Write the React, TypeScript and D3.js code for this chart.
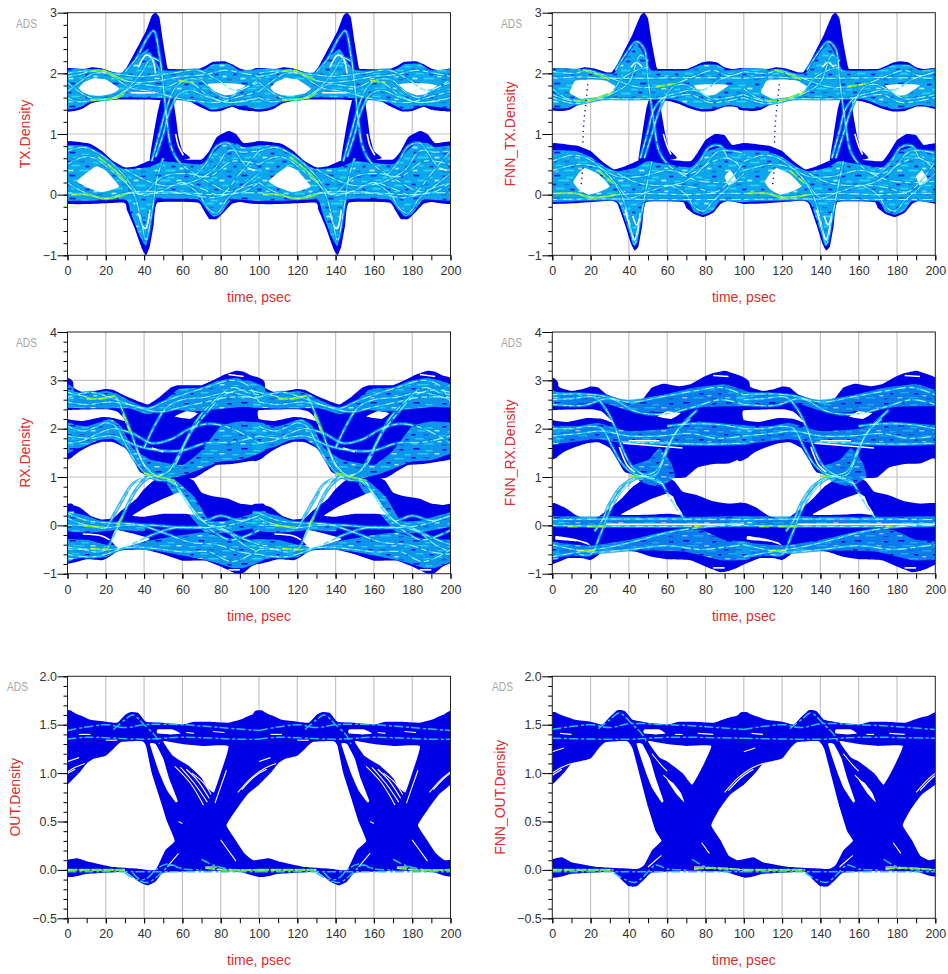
import { useEffect, useRef } from 'react'
import * as d3 from 'd3'

type Pt = [number, number]

const timeTicks = [0, 20, 40, 60, 80, 100, 120, 140, 160, 180, 200]
const periods = [-100, 0, 100]

// ---- TX ----
const txUpperMass: Pt[] = [[-3,2.07],[8,2.07],[13,2.1],[18,2.08],[24,2.02],[28,2],[31,2.1],[36,2.4],[41,2.7],[44,2.95],[46,3],[48,2.92],[50,2.5],[52,2.12],[53,2.07],[68,2.07],[72,2.12],[76,2.19],[82,2.2],[86,2.15],[90,2.08],[94,2.05],[103,2.07],[103,1.4],[95,1.38],[90,1.4],[86,1.45],[80,1.38],[75,1.37],[71,1.42],[66,1.5],[62,1.56],[55,1.56],[30,1.57],[20,1.56],[12,1.5],[8,1.42],[4,1.38],[-3,1.4]]
const txLowerMass: Pt[] = [[-3,0.85],[10,0.85],[13,0.82],[18,0.72],[24,0.55],[30,0.45],[36,0.47],[42,0.55],[50,0.62],[60,0.58],[70,0.58],[74,0.72],[78,0.95],[84,1.05],[88,1],[92,0.85],[103,0.85],[103,-0.13],[90,-0.12],[86,-0.15],[82,-0.28],[78,-0.4],[74,-0.4],[71,-0.25],[68,-0.13],[47,-0.13],[45,-0.5],[43,-0.85],[41,-1],[39,-0.9],[35,-0.55],[31,-0.25],[29,-0.13],[-3,-0.13]]
const txEdgeMass: Pt[] = [[43,0.55],[45,1],[47,1.35],[49,1.6],[52,1.75],[55,1.6],[56.5,1.3],[58,0.95],[60,0.72],[64,0.6],[50,0.5]]
const txUpperCore: Pt[] = [[-3,2.05],[12,2.07],[25,2],[30,2.03],[36,2.25],[42,2.4],[46,2.2],[50,2.05],[70,2.05],[76,2.15],[84,2.16],[90,2.05],[103,2.05],[103,1.43],[92,1.45],[86,1.47],[80,1.42],[75,1.4],[71,1.47],[66,1.55],[60,1.58],[30,1.6],[20,1.6],[12,1.54],[8,1.46],[4,1.42],[-3,1.43]]
const txLowerCore: Pt[] = [[-3,0.78],[10,0.8],[18,0.66],[24,0.5],[30,0.42],[42,0.45],[50,0.55],[60,0.52],[70,0.5],[76,0.68],[82,0.85],[88,0.85],[92,0.78],[103,0.78],[103,-0.08],[86,-0.08],[80,-0.32],[76,-0.36],[72,-0.22],[68,-0.08],[46,-0.08],[44,-0.4],[41,-0.85],[38,-0.7],[33,-0.3],[30,-0.08],[-3,-0.08]]
const txEyeA: Pt[] = [[6,1.76],[9,1.86],[14,1.92],[20,1.9],[25,1.8],[27,1.74],[24,1.67],[18,1.63],[12,1.64],[8,1.69]]
const txEyeB: Pt[] = [[73,1.82],[80,1.84],[88,1.83],[93,1.8],[87,1.66],[82,1.64],[77,1.7]]
const txEyeC: Pt[] = [[5,0.22],[10,0.36],[15,0.47],[20,0.4],[27,0.14],[22,0.07],[17,0.04],[10,0.12]]
const txSlitA: Pt[] = [[37,-0.3],[40,-0.55],[41,-0.55],[43,-0.25]]
const txSlitB: Pt[] = [[37,2.1],[41,2.3],[44,2.25],[46,2.0]]
const txSlitC: Pt[] = [[56.5,1.0],[58,0.8],[60.5,0.65]]
const txSlitD: Pt[] = [[33,1.68],[46,1.68]]
const txSlitE: Pt[] = [[94,0.43],[98,0.4]]
const txRibbonA: Pt[] = [[0,1.95],[6,1.98],[13,2.04],[20,2.02],[28,1.9],[36,1.85],[48,1.88],[60,1.95],[72,1.98],[82,2.05],[92,2],[100,1.95]]
const txRibbonB: Pt[] = [[0,1.6],[6,1.53],[14,1.56],[24,1.6],[30,1.7],[36,1.82],[44,1.8],[52,1.78],[60,1.88],[66,1.82],[74,1.62],[84,1.52],[92,1.55],[100,1.6]]
const txRibbonC: Pt[] = [[0,1.85],[6,1.7],[12,1.6],[22,1.58],[30,1.72],[38,1.98],[44,2.25],[48,2.2]]
const txRibbonD: Pt[] = [[0,1.7],[6,1.85],[14,2],[22,1.98],[28,1.85],[34,1.75],[44,1.7],[56,1.6],[66,1.55],[78,1.52],[90,1.62],[100,1.7]]
const txRibbonE: Pt[] = [[0,2],[10,2.04],[28,1.98],[38,1.95],[54,2],[68,2.05],[78,1.9],[88,1.72],[100,1.9]]
const txRibbonF: Pt[] = [[44,0.55],[48,1],[52,1.45],[56,1.75],[62,1.9],[70,1.88],[76,1.7],[84,1.6],[92,1.75],[100,1.85]]
const txRibbonG: Pt[] = [[46,0.62],[50,1],[53,1.35],[58,1.65],[64,1.72],[74,1.6],[84,1.52],[94,1.55],[100,1.6]]
const txRibbonH: Pt[] = [[30,2.02],[36,2.25],[42,2.6],[45,2.7],[48,2.3],[50,1.8],[52,1.2],[54,0.8],[58,0.55],[66,0.35],[74,0.2],[84,0.05],[92,0.12],[100,0.2]]
const txRibbonI: Pt[] = [[0,0.72],[8,0.78],[14,0.72],[22,0.55],[30,0.3],[38,0],[48,0.05],[60,0.2],[70,0.1],[80,0],[90,0.35],[100,0.72]]
const txRibbonJ: Pt[] = [[0,0.2],[6,0.08],[14,-0.02],[20,-0.07],[28,0],[36,0.05],[50,0.05],[66,0.02],[80,0],[92,0.05],[100,0.2]]
const txRibbonK: Pt[] = [[0,0.5],[8,0.62],[14,0.6],[22,0.42],[30,0.2],[38,0],[50,0.3],[62,0.35],[74,0.3],[86,0.55],[100,0.5]]
const txRibbonL: Pt[] = [[0,0.03],[10,0],[20,-0.06],[30,0.02],[42,0.02],[60,0.02],[76,-0.05],[86,0.02],[100,0.03]]
const txRibbonM: Pt[] = [[30,0.42],[40,0.25],[50,0.15],[64,0.2],[76,0.4],[84,0.72],[92,0.7],[100,0.72]]
const txRibbonN: Pt[] = [[26,0.35],[34,0.05],[38,-0.35],[41,-0.75],[44,-0.3],[47,0.3],[50,0.6]]
const txRibbonO: Pt[] = [[60,0.2],[68,0.03],[74,-0.25],[78,-0.3],[84,-0.05],[92,0.15],[100,0.35]]
const txRibbonP: Pt[] = [[66,0.3],[72,0.5],[78,0.8],[84,0.85],[88,0.7],[94,0.45],[100,0.4]]
const txGreenA: Pt[] = [[12,2.03],[18,2.05],[24,1.97],[30,1.88]]
const txGreenB: Pt[] = [[12,1.56],[20,1.57],[26,1.6],[30,1.68]]
const txGreenC: Pt[] = [[16,0.62],[24,0.42],[31,0.2]]
const txGreenD: Pt[] = [[2,0],[10,0],[18,-0.06],[26,-0.04],[31,0.02]]
const txGreenE: Pt[] = [[58,1.88],[66,1.85]]

// ---- FNN_TX ----
const ftUpperMass: Pt[] = [[-3,2.07],[12,2.07],[17,2.1],[22,2.08],[28,2.02],[31,2.02],[34,2.15],[38,2.4],[42,2.65],[46,2.95],[48,3],[50,2.9],[52,2.5],[54.5,2.1],[56,2.07],[70,2.07],[74,2.12],[78,2.18],[82,2.2],[86,2.18],[90,2.1],[94,2.07],[103,2.07],[103,1.42],[95,1.45],[90,1.45],[84,1.38],[78,1.37],[72,1.42],[66,1.5],[60,1.55],[40,1.57],[28,1.57],[17,1.52],[13,1.47],[9,1.4],[5,1.38],[-3,1.42]]
const ftLowerMass: Pt[] = [[-3,0.82],[10,0.82],[14,0.8],[20,0.72],[26,0.55],[32,0.42],[38,0.47],[44,0.55],[50,0.62],[60,0.58],[72,0.55],[76,0.7],[80,0.9],[85,1],[90,0.98],[94,0.82],[103,0.82],[103,-0.13],[92,-0.1],[88,-0.15],[84,-0.3],[79,-0.37],[74,-0.32],[70,-0.22],[68,-0.12],[49,-0.12],[47,-0.5],[45,-0.85],[43,-0.92],[41,-0.8],[38,-0.5],[34,-0.15],[30,-0.1],[-3,-0.13]]
const ftEdgeMass: Pt[] = [[45,0.55],[47,1],[49,1.4],[51,1.6],[56,1.6],[57,1.35],[59,1],[61,0.75],[65,0.6],[50,0.5]]
const ftUpperCore: Pt[] = [[-3,2.06],[14,2.07],[26,2],[32,2],[38,2.25],[44,2.5],[48,2.3],[52,2.05],[70,2.05],[78,2.14],[86,2.14],[92,2.05],[103,2.06],[103,1.46],[92,1.48],[84,1.42],[78,1.41],[72,1.46],[66,1.54],[60,1.58],[28,1.6],[17,1.55],[9,1.44],[5,1.42],[-3,1.46]]
const ftLowerCore: Pt[] = [[-3,0.7],[12,0.72],[20,0.62],[28,0.45],[34,0.38],[44,0.45],[50,0.55],[72,0.45],[80,0.7],[88,0.78],[94,0.72],[103,0.7],[103,-0.1],[88,-0.1],[84,-0.26],[79,-0.33],[74,-0.28],[70,-0.1],[48,-0.1],[46,-0.45],[43,-0.85],[40,-0.6],[35,-0.15],[30,-0.07],[-3,-0.1]]
const ftEyeA: Pt[] = [[9,1.68],[12,1.88],[20,1.9],[28,1.88],[33,1.78],[30,1.66],[22,1.6],[15,1.58]]
const ftEyeB: Pt[] = [[74,1.8],[80,1.82],[88,1.82],[92,1.8],[85,1.65],[80,1.63],[76,1.72]]
const ftEyeC: Pt[] = [[11,0.21],[14,0.36],[17,0.44],[24,0.34],[30,0.14],[25,0.05],[19,0],[14,0.08]]
const ftEyeD: Pt[] = [[90,0.3],[93,0.4],[96,0.25],[92,0.15]]
const ftSlitA: Pt[] = [[38,-0.25],[42,-0.68],[43,-0.75],[44.5,-0.6],[46,-0.3]]
const ftSlitB: Pt[] = [[42,-0.35],[44,-0.5],[45.5,-0.4]]
const ftSlitC: Pt[] = [[41,2.1],[44,2.18],[47,2.1]]
const ftSlitD: Pt[] = [[58,1.0],[60,0.8],[62,0.66]]
const ftRibbonA: Pt[] = [[0,1.92],[14,1.94],[30,1.92],[50,1.92],[70,1.93],[100,1.92]]
const ftRibbonB: Pt[] = [[0,2.03],[12,2],[18,2.05],[26,1.98],[34,1.88],[44,1.78],[56,1.78],[66,1.85],[74,1.95],[84,2.05],[92,1.96],[100,2.03]]
const ftRibbonC: Pt[] = [[0,1.65],[6,1.58],[14,1.53],[24,1.6],[32,1.68],[40,1.85],[46,2.3],[50,2.2]]
const ftRibbonD: Pt[] = [[0,1.75],[8,1.58],[20,1.56],[30,1.65],[36,1.9],[44,2.05],[50,2.1]]
const ftRibbonE: Pt[] = [[0,1.6],[12,1.5],[26,1.58],[44,1.58],[60,1.6],[72,1.65],[82,1.52],[92,1.55],[100,1.6]]
const ftRibbonF: Pt[] = [[46,0.6],[50,1.05],[53,1.4],[58,1.6],[66,1.68],[74,1.72],[84,1.58],[92,1.6],[100,1.65]]
const ftRibbonG: Pt[] = [[48,0.6],[52,1],[56,1.4],[62,1.75],[68,1.82],[78,1.72],[88,1.9],[100,2.02]]
const ftRibbonH: Pt[] = [[33,2.05],[38,2.3],[44,2.52],[48,2.4],[50,1.9],[53,1.2],[56,0.7],[62,0.45],[74,0.25],[86,0.2],[100,0.22]]
const ftRibbonI: Pt[] = [[0,0.55],[10,0.65],[18,0.6],[26,0.42],[34,0.15],[40,-0.05],[50,0.05],[62,0.15],[74,0.12],[86,0.05],[100,0.55]]
const ftRibbonJ: Pt[] = [[0,0.02],[12,0.02],[22,-0.04],[34,0],[50,0.02],[70,0],[84,0.02],[100,0.02]]
const ftRibbonK: Pt[] = [[0,-0.08],[30,-0.07],[50,-0.08],[70,-0.08],[100,-0.08]]
const ftRibbonL: Pt[] = [[0,0.4],[14,0.5],[24,0.45],[34,0.3],[46,0.3],[60,0.4],[72,0.35],[84,0.55],[92,0.6],[100,0.4]]
const ftRibbonM: Pt[] = [[34,0.35],[44,0.2],[56,0.15],[68,0.2],[78,0.42],[86,0.7],[94,0.72],[100,0.68]]
const ftRibbonN: Pt[] = [[30,0.3],[36,0],[40,-0.4],[43,-0.82],[46,-0.4],[49,0.1],[52,0.55]]
const ftRibbonO: Pt[] = [[62,0.15],[70,0],[74,-0.2],[79,-0.27],[84,-0.1],[92,0.12],[100,0.35]]
const ftRibbonP: Pt[] = [[68,0.3],[76,0.5],[82,0.78],[88,0.8],[92,0.6],[100,0.5]]
const ftGreenA: Pt[] = [[16,2.06],[24,1.98],[30,1.9]]
const ftGreenB: Pt[] = [[12,1.54],[22,1.58],[32,1.7]]
const ftGreenC: Pt[] = [[2,0.02],[12,0.02],[20,-0.05],[26,-0.04],[34,0]]
const ftGreenD: Pt[] = [[54,1.78],[64,1.83]]
const ftGreenE: Pt[] = [[24,0.4],[32,0.18]]
const ftDotsA: Pt[] = [[18.5,1.82],[17.5,1.5],[16.5,1.2],[16,0.85]]
const ftDotsB: Pt[] = [[16,0.45],[15,0.15]]

// ---- RX ----
const rxUpperMass: Pt[] = [[-3,3.05],[3,2.85],[8,2.75],[14,2.78],[20,2.82],[24,2.8],[30,2.68],[38,2.55],[42,2.5],[48,2.65],[54,2.85],[58,2.9],[70,2.9],[76,3],[82,3.12],[88,3.2],[92,3.18],[96,3.1],[103,2.95],[103,1.45],[94,1.32],[86,1.27],[78,1.25],[72,1.12],[66,0.98],[50,0.95],[38,1.1],[34,1.4],[30,1.6],[24,1.72],[18,1.73],[12,1.65],[6,1.52],[-3,1.35]]
const rxLowerMass: Pt[] = [[-3,0.42],[6,0.38],[12,0.2],[18,0.12],[24,0.15],[28,0.3],[32,0.42],[36,0.55],[40,0.75],[46,0.95],[60,1.02],[66,0.92],[70,0.68],[76,0.6],[84,0.55],[90,0.45],[96,0.42],[103,0.42],[103,-0.68],[96,-0.85],[92,-0.98],[88,-1],[80,-0.85],[72,-0.73],[60,-0.73],[50,-0.6],[40,-0.5],[27,-0.52],[22,-0.65],[18,-0.72],[10,-0.7],[-3,-0.78]]
const rxLaneCoreA: Pt[] = [[-3,2.85],[8,2.72],[20,2.78],[26,2.72],[34,2.55],[42,2.42],[50,2.55],[58,2.82],[70,2.85],[78,2.98],[88,3.05],[96,2.98],[103,2.85],[103,2.45],[90,2.45],[78,2.4],[66,2.35],[54,2.4],[42,2.3],[32,2.42],[20,2.42],[8,2.42],[-3,2.45]]
const rxLaneCoreB: Pt[] = [[-3,2.1],[10,2.05],[22,2.2],[28,2.05],[34,1.6],[44,1.35],[60,1.25],[70,1.55],[80,2.05],[90,2.15],[103,2.1],[103,1.55],[90,1.35],[80,1.32],[72,1.2],[62,1.05],[50,0.95],[40,1.1],[32,1.55],[24,1.78],[16,1.76],[8,1.62],[-3,1.55]]
const rxLaneCoreC: Pt[] = [[-3,0.3],[10,0.2],[20,0.05],[30,0],[40,0.02],[40,-0.12],[24,-0.1],[12,-0.15],[-3,-0.1]]
const rxLaneCoreD: Pt[] = [[-3,-0.3],[10,-0.3],[20,-0.4],[30,-0.4],[45,-0.3],[60,-0.2],[72,-0.15],[85,-0.3],[103,-0.3],[103,-0.7],[92,-0.88],[86,-0.88],[78,-0.78],[70,-0.7],[50,-0.55],[30,-0.48],[20,-0.66],[10,-0.67],[-3,-0.7]]
const rxLaneCoreE: Pt[] = [[56,0.95],[66,0.6],[74,0.1],[84,0.1],[103,0.3],[103,0],[84,-0.15],[72,-0.15],[62,0.3],[52,0.85]]
const rxHoleA: Pt[] = [[0,2.38],[20,2.4],[26,2.35],[31,2.15],[24,2.22],[18,2.24],[8,2.16],[0,2.2]]
const rxHoleB: Pt[] = [[25,-0.1],[32,-0.15],[43,-0.28],[36,-0.38],[27,-0.48],[23,-0.32]]
const rxHoleC: Pt[] = [[56,2.25],[62,2.36],[68,2.32],[64,2.2]]
const rxHoleD: Pt[] = [[34,0.2],[42,0.4],[50,0.55],[58,0.68],[61,0.62],[64,0.42],[68,0.22],[60,0.24],[50,0.24],[40,0.18]]
const rxSlitA: Pt[] = [[36,1.6],[40,1.25],[43,1.12]]
const rxSlitB: Pt[] = [[8,-0.18],[18,-0.22],[22,-0.3]]
const rxSlitC: Pt[] = [[32,0.68],[36,0.88],[40,1]]
const rxSlitD: Pt[] = [[44,1.6],[50,1.52]]
const rxSlitE: Pt[] = [[84,3.12],[92,3.08]]
const rxSlitF: Pt[] = [[84,-0.92],[90,-0.92]]
const rxRibbonA: Pt[] = [[0,2.75],[8,2.68],[14,2.62],[20,2.65],[25,2.66],[29,2.35],[33,1.95],[37,1.5],[42,1.15],[48,1],[54,0.95],[60,0.65],[66,0.3],[72,0.05],[80,-0.05],[90,-0.25],[100,-0.4]]
const rxRibbonB: Pt[] = [[0,2.05],[8,1.95],[14,2.02],[20,2.12],[25,2.05],[30,1.7],[35,1.35],[40,1.1],[46,0.95],[54,0.9],[60,0.62],[66,0.28],[74,0],[84,-0.15],[92,-0.4],[100,-0.55]]
const rxRibbonC: Pt[] = [[0,-0.5],[8,-0.5],[14,-0.55],[20,-0.5],[25,-0.15],[30,0.3],[36,0.75],[42,0.98],[50,1.05],[56,1.25],[62,1.75],[68,2.2],[76,2.55],[86,2.85],[94,2.75],[100,2.7]]
const rxRibbonD: Pt[] = [[0,0.15],[6,0.05],[14,-0.03],[20,-0.05],[24,0.2],[29,0.55],[34,0.85],[42,1],[52,1.1],[58,1.45],[64,1.9],[72,2.3],[82,2.7],[92,2.8],[100,2.75]]
const rxRibbonE: Pt[] = [[0,2.55],[10,2.5],[22,2.55],[32,2.5],[42,2.42],[50,2.55],[60,2.7],[72,2.85],[86,3],[94,2.9],[100,2.55]]
const rxRibbonF: Pt[] = [[0,2.65],[12,2.75],[24,2.62],[36,2.45],[48,2.35],[60,2.45],[72,2.55],[84,2.65],[100,2.65]]
const rxRibbonG: Pt[] = [[0,1.7],[8,1.75],[16,1.9],[24,2],[34,1.9],[44,1.7],[54,1.78],[64,2],[74,2.1],[86,2],[100,1.7]]
const rxRibbonH: Pt[] = [[0,1.85],[12,1.8],[24,1.85],[36,1.65],[48,1.55],[60,1.55],[72,1.7],[86,1.72],[100,1.85]]
const rxRibbonI: Pt[] = [[40,1.6],[46,2.1],[52,2.45],[60,2.6],[72,2.65],[84,2.75],[100,2.6]]
const rxRibbonJ: Pt[] = [[0,0],[10,0],[20,-0.05],[30,0],[45,0],[60,-0.05],[72,-0.05],[85,-0.3],[100,-0.1]]
const rxRibbonK: Pt[] = [[0,-0.45],[12,-0.5],[22,-0.5],[36,-0.45],[50,-0.5],[60,-0.55],[74,-0.55],[86,-0.75],[100,-0.5]]
const rxRibbonL: Pt[] = [[0,0.25],[10,0.1],[22,0.05],[36,0.02],[50,-0.15],[64,-0.35],[78,-0.4],[90,-0.55],[100,-0.6]]
const rxRibbonM: Pt[] = [[0,-0.6],[14,-0.65],[30,-0.45],[44,-0.2],[56,-0.05],[70,-0.05],[84,0],[100,0.2]]
const rxRibbonN: Pt[] = [[56,0.9],[62,0.5],[70,0.1],[80,0.2],[90,0.1],[100,0.2]]
const rxGreenA: Pt[] = [[10,2.62],[18,2.62],[25,2.68]]
const rxGreenB: Pt[] = [[29,2.3],[33,1.9]]
const rxGreenC: Pt[] = [[40,1.08],[48,1],[56,0.92]]
const rxGreenD: Pt[] = [[8,0],[20,-0.05]]
const rxGreenE: Pt[] = [[12,-0.48],[22,-0.5]]
const rxGreenF: Pt[] = [[26,0],[29,0.2]]

// ---- FNN_RX ----
const frUpperMass: Pt[] = [[-3,3.05],[4,2.85],[10,2.78],[16,2.82],[20,2.87],[24,2.85],[28,2.72],[36,2.6],[42,2.5],[48,2.65],[52,2.85],[58,2.93],[66,2.88],[72,2.92],[78,3.05],[84,3.15],[90,3.2],[94,3.15],[103,2.95],[103,1.45],[98,1.38],[92,1.28],[84,1.27],[76,1.2],[70,1],[66,0.98],[50,1],[38,1.1],[34,1.35],[30,1.6],[24,1.72],[18,1.7],[12,1.62],[6,1.52],[-3,1.35]]
const frLowerMass: Pt[] = [[-3,0.45],[6,0.38],[12,0.22],[18,0.12],[24,0.18],[30,0.35],[36,0.55],[42,0.8],[50,1],[60,1],[64,0.9],[68,0.7],[76,0.62],[84,0.5],[92,0.45],[103,0.42],[103,-0.7],[94,-0.92],[88,-0.97],[80,-0.85],[72,-0.72],[60,-0.7],[52,-0.65],[44,-0.55],[32,-0.5],[28,-0.45],[24,-0.62],[20,-0.72],[16,-0.68],[8,-0.68],[-3,-0.8]]
const frLaneCoreA: Pt[] = [[-3,2.75],[20,2.72],[40,2.6],[58,2.7],[74,2.85],[90,2.92],[103,2.75],[103,2.48],[80,2.45],[60,2.35],[42,2.35],[25,2.55],[10,2.5],[-3,2.48]]
const frLaneCoreB: Pt[] = [[-3,2.05],[14,2.05],[24,2.12],[40,1.95],[60,2],[76,2.15],[90,2.1],[103,2.05],[103,1.68],[70,1.65],[40,1.68],[24,1.78],[10,1.72],[-3,1.68]]
const frLaneCoreC: Pt[] = [[-3,0.18],[50,0.18],[80,0.18],[103,0.18],[103,-0.03],[-3,-0.03]]
const frLaneCoreD: Pt[] = [[-3,-0.35],[20,-0.42],[40,-0.3],[60,-0.12],[78,-0.1],[90,-0.3],[103,-0.35],[103,-0.7],[88,-0.72],[70,-0.55],[50,-0.52],[30,-0.55],[20,-0.62],[-3,-0.65]]
const frLaneCoreE: Pt[] = [[40,1.2],[50,1.35],[56,1.6],[62,1.3],[64,1],[56,0.8],[46,0.9]]
const frHoleA: Pt[] = [[0,2.38],[20,2.4],[26,2.35],[32,2.12],[26,2.2],[18,2.22],[8,2.14],[0,2.18]]
const frHoleB: Pt[] = [[2,-0.22],[12,-0.28],[18,-0.35],[20,-0.42],[14,-0.34],[2,-0.3]]
const frHoleC: Pt[] = [[55,2.25],[60,2.36],[67,2.32],[62,2.2]]
const frHoleD: Pt[] = [[36,0.22],[44,0.4],[52,0.55],[60,0.66],[63,0.6],[65,0.42],[68,0.22],[60,0.24],[50,0.22]]
const frSlitA: Pt[] = [[35,1.62],[39,1.25],[43,1.1]]
const frSlitB: Pt[] = [[30,0.32],[34,0.6],[40,0.88]]
const frSlitC: Pt[] = [[37,1.7],[68,1.6]]
const frSlitD: Pt[] = [[40,1.75],[56,1.75]]
const frSlitE: Pt[] = [[84,3.1],[92,3.08]]
const frSlitF: Pt[] = [[84,-0.88],[90,-0.88]]
const frSlitG: Pt[] = [[28,0.02],[100,0.02]]
const frRibbonA: Pt[] = [[0,2.6],[10,2.62],[22,2.65],[28,2.4],[33,2],[37,1.55],[42,1.2],[50,1],[56,0.92],[61,0.6],[66,0.28],[70,0.1]]
const frRibbonB: Pt[] = [[0,2],[10,2],[20,2.05],[26,2],[31,1.65],[36,1.3],[42,1.08],[50,0.98],[58,0.85]]
const frRibbonC: Pt[] = [[14,-0.6],[20,-0.6],[25,-0.2],[30,0.3],[36,0.72],[44,0.98],[54,1.05],[58,1.35],[64,1.9],[72,2.2]]
const frRibbonD: Pt[] = [[22,-0.12],[26,0.1],[30,0.45],[36,0.8],[44,1],[54,1.12],[60,1.6],[66,2],[76,2.4]]
const frRibbonE: Pt[] = [[0,2.7],[14,2.72],[26,2.68],[40,2.55],[56,2.65],[74,2.78],[88,2.85],[100,2.7]]
const frRibbonF: Pt[] = [[0,2.5],[16,2.48],[30,2.62],[44,2.35],[58,2.3],[74,2.45],[88,2.6],[100,2.5]]
const frRibbonG: Pt[] = [[0,1.85],[14,1.9],[26,1.95],[40,1.85],[56,1.85],[72,1.9],[86,1.8],[100,1.85]]
const frRibbonH: Pt[] = [[38,1.72],[60,1.7],[80,1.68],[100,1.7]]
const frRibbonI: Pt[] = [[0,0.12],[30,0.13],[60,0.13],[100,0.12]]
const frRibbonJ: Pt[] = [[0,0],[40,-0.02],[70,-0.02],[100,0]]
const frRibbonK: Pt[] = [[0,-0.65],[14,-0.55],[30,-0.45],[46,-0.3],[60,-0.15],[76,-0.05],[100,0.05]]
const frRibbonL: Pt[] = [[0,-0.4],[20,-0.55],[40,-0.5],[60,-0.42],[78,-0.5],[90,-0.45],[100,-0.4]]
const frRibbonM: Pt[] = [[60,2.05],[72,2.1],[88,2.08],[100,2]]
const frGreenA: Pt[] = [[8,-0.02],[14,-0.02]]
const frGreenB: Pt[] = [[18,-0.02],[28,-0.02]]
const frGreenC: Pt[] = [[14,-0.52],[22,-0.52]]
const frGreenD: Pt[] = [[74,-0.02],[78,-0.02]]
const frGreenE: Pt[] = [[40,1.03],[46,1]]

// ---- OUT ----
const outMass: Pt[] = [[-3,1.6],[6,1.6],[12,1.55],[20,1.53],[26,1.52],[30,1.6],[33,1.63],[37,1.62],[41,1.53],[50,1.52],[60,1.5],[66,1.53],[74,1.53],[84,1.52],[90,1.55],[96,1.6],[103,1.6],[103,-0.02],[90,-0.02],[70,-0.01],[60,-0.02],[50,-0.03],[46,-0.12],[42,-0.16],[38,-0.13],[34,-0.07],[30,-0.02],[20,-0.03],[10,-0.04],[-3,-0.02]]
const outEyeA: Pt[] = [[83,0.46],[88,0.62],[94,0.78],[100,0.88],[106,1],[110,1.1],[114,1.15],[120,1.18],[124,1.25],[128,1.32],[139,1.33],[141,1.28],[144,1],[148,0.75],[152,0.5],[156,0.3],[151,0.2],[146,0],[138,0.01],[124,0.03],[110,0.09],[105,0.12],[97,0.1],[92,0.18],[88,0.3]]
const outEyeB: Pt[] = [[50,1.33],[60,1.3],[70,1.28],[84,1.28],[80,1],[76.5,0.8],[73,0.85],[70,0.95],[63,1.08],[55,1.18]]
const outSlitA: Pt[] = [[43,1.3],[48,1],[52,0.82],[56.5,0.7],[57.5,0.72],[53,0.95],[50,1.15],[46,1.3]]
const outSlitB: Pt[] = [[47,1.45],[55,1.45],[59,1.41],[54,1.4],[47,1.41]]
const outHatchA: Pt[] = [[56,1.07],[64,0.9],[71,0.67]]
const outHatchB: Pt[] = [[59,1.06],[66,0.9],[73,0.7]]
const outHatchC: Pt[] = [[62,1.04],[68,0.92],[74,0.74]]
const outHatchD: Pt[] = [[65,1],[71,0.9],[75,0.78]]
const outHatchE: Pt[] = [[83,1.03],[80,0.86],[77,0.69]]
const outHatchF: Pt[] = [[89,0.8],[96,0.95],[103,1.05],[109,1.1]]
const outHatchG: Pt[] = [[91,0.83],[98,0.97],[104,1.04]]
const outHatchH: Pt[] = [[80,0.31],[84,0.2],[88,0.09]]
const outHatchI: Pt[] = [[52,0.03],[55,0.1],[58,0.17]]
const outHatchJ: Pt[] = [[72,0.03],[78,0.03]]
const outHatchK: Pt[] = [[100,1.12],[106,1.16]]
const outHatchL: Pt[] = [[62,1.42],[66,1.41]]
const outHatchM: Pt[] = [[76,1.43],[82,1.42]]
const outHatchN: Pt[] = [[6,1.4],[12,1.4]]
const outHatchO: Pt[] = [[20,1.34],[26,1.34]]
const outHatchP: Pt[] = [[58,0.5],[60,0.48]]
const outCyanA: Pt[] = [[24,1.45],[30,1.55],[34,1.6],[40,1.5],[46,1.38],[48,1.3]]
const outCyanB: Pt[] = [[0,1.44],[20,1.5],[30,1.47],[40,1.5],[60,1.5],[80,1.47],[100,1.44]]
const outCyanC: Pt[] = [[0,1.35],[10,1.37],[40,1.35],[60,1.37],[90,1.35],[100,1.35]]
const outCyanD: Pt[] = [[30,-0.03],[36,-0.1],[42,-0.13],[48,-0.05],[54,0.05],[60,0.01],[70,0]]
const outCyanE: Pt[] = [[70,0.11],[76,0.05],[84,0.01],[90,0]]
const outCyanF: Pt[] = [[34,-0.03],[38,-0.1],[42,-0.08],[46,0],[52,0.06],[58,0.02]]
const outCyanG: Pt[] = [[0,-0.02],[30,-0.02],[60,-0.02],[100,-0.02]]
const outGreenA: Pt[] = [[0,0],[14,0],[30,0]]
const outGreenB: Pt[] = [[72,0.02],[82,0],[100,0]]

// ---- FNN_OUT ----
const foMass: Pt[] = [[-3,1.58],[6,1.59],[12,1.55],[20,1.53],[26,1.5],[30,1.58],[34,1.65],[38,1.64],[42,1.55],[50,1.52],[60,1.5],[66,1.53],[74,1.53],[84,1.52],[90,1.56],[96,1.59],[103,1.58],[103,-0.02],[90,-0.02],[70,-0.01],[52,-0.03],[48,-0.1],[44,-0.17],[40,-0.17],[36,-0.1],[32,-0.02],[20,-0.03],[10,-0.04],[-3,-0.03]]
const foEyeA: Pt[] = [[83,0.46],[87,0.62],[93,0.78],[100,0.88],[106,1],[110,1.1],[114,1.12],[120,1.15],[124,1.25],[128,1.32],[139,1.33],[142,1.25],[146,0.95],[150,0.65],[154,0.4],[157,0.3],[152,0.2],[148,0.05],[144,0.01],[124,0.03],[110,0.08],[105,0.13],[97,0.1],[92,0.15],[88,0.3]]
const foEyeB: Pt[] = [[50,1.33],[60,1.3],[70,1.28],[83,1.28],[78,1.05],[73,0.88],[68,1],[60,1.12],[56,1.16]]
const foSlitA: Pt[] = [[44,1.3],[49,1],[52,0.85],[57,0.7],[58,0.72],[54,0.95],[51,1.15],[47,1.3]]
const foSlitB: Pt[] = [[48,1.45],[56,1.45],[59,1.41],[54,1.4],[48,1.41]]
const foSlitC: Pt[] = [[60,0.93],[65,0.78],[69,0.7],[67,0.8],[63,0.9]]
const foHatchA: Pt[] = [[52,1.2],[57,1.08],[60,1.02]]
const foHatchB: Pt[] = [[58,0.98],[63,0.88]]
const foHatchC: Pt[] = [[90,0.8],[97,0.95],[104,1.05],[110,1.1]]
const foHatchD: Pt[] = [[92,0.82],[99,0.96],[105,1.04]]
const foHatchE: Pt[] = [[0,1.22],[6,1.26]]
const foHatchF: Pt[] = [[78,0.28],[82,0.17]]
const foHatchG: Pt[] = [[50,0.03],[54,0.1],[57,0.15]]
const foHatchH: Pt[] = [[74,0.03],[80,0.03]]
const foHatchI: Pt[] = [[70,1.2],[76,1.2]]
const foHatchJ: Pt[] = [[64,1.4],[68,1.4]]
const foHatchK: Pt[] = [[76,1.41],[84,1.4]]
const foHatchL: Pt[] = [[4,1.41],[10,1.4]]
const foCyanA: Pt[] = [[24,1.46],[30,1.55],[35,1.62],[42,1.5],[47,1.4],[49,1.33]]
const foCyanB: Pt[] = [[0,1.45],[20,1.5],[30,1.47],[40,1.51],[60,1.5],[80,1.48],[100,1.45]]
const foCyanC: Pt[] = [[0,1.36],[40,1.35],[60,1.37],[100,1.36]]
const foCyanD: Pt[] = [[32,-0.03],[38,-0.1],[43,-0.13],[48,-0.06],[54,0.05],[60,0.01],[70,0]]
const foCyanE: Pt[] = [[73,0.11],[78,0.05],[85,0.01],[92,0]]
const foCyanF: Pt[] = [[0,-0.02],[30,-0.02],[60,-0.02],[100,-0.02]]
const foGreenA: Pt[] = [[0,0],[15,0],[32,0]]
const foGreenB: Pt[] = [[74,0.01],[84,0.02],[100,0]]

const panels = [
  { title: 'TX.Density', left: 67.5, top: 12.7, bottom: 255.3, domain: [-1, 3], step: 0.2, labelX: 25, adsX: 16, digits: 0, majors: [-1, 0, 1, 2, 3], coreOpacity: 1,
    masses: [txUpperMass, txLowerMass, txEdgeMass], cores: [txUpperCore, txLowerCore], eyes: [txEyeA, txEyeB, txEyeC],
    ribbons: [txRibbonA, txRibbonB, txRibbonC, txRibbonD, txRibbonE, txRibbonF, txRibbonG, txRibbonH, txRibbonI, txRibbonJ, txRibbonK, txRibbonL, txRibbonM, txRibbonN, txRibbonO, txRibbonP],
    slits: [txSlitA, txSlitB, txSlitC, txSlitD, txSlitE], lines: [] as Pt[][], greens: [txGreenA, txGreenB, txGreenC, txGreenD, txGreenE], dots: [] as Pt[][] },
  { title: 'FNN_TX.Density', left: 552.3, top: 12.7, bottom: 255.3, domain: [-1, 3], step: 0.2, labelX: 510, adsX: 501, digits: 0, majors: [-1, 0, 1, 2, 3], coreOpacity: 1,
    masses: [ftUpperMass, ftLowerMass, ftEdgeMass], cores: [ftUpperCore, ftLowerCore], eyes: [ftEyeA, ftEyeB, ftEyeC, ftEyeD],
    ribbons: [ftRibbonA, ftRibbonB, ftRibbonC, ftRibbonD, ftRibbonE, ftRibbonF, ftRibbonG, ftRibbonH, ftRibbonI, ftRibbonJ, ftRibbonK, ftRibbonL, ftRibbonM, ftRibbonN, ftRibbonO, ftRibbonP],
    slits: [ftSlitA, ftSlitB, ftSlitC, ftSlitD], lines: [] as Pt[][], greens: [ftGreenA, ftGreenB, ftGreenC, ftGreenD, ftGreenE], dots: [ftDotsA, ftDotsB] },
  { title: 'RX.Density', left: 67.5, top: 332, bottom: 573.7, domain: [-1, 4], step: 0.2, labelX: 25, adsX: 16, digits: 0, majors: [-1, 0, 1, 2, 3, 4], coreOpacity: 0.9,
    masses: [rxUpperMass, rxLowerMass], cores: [rxLaneCoreA, rxLaneCoreB, rxLaneCoreC, rxLaneCoreD, rxLaneCoreE], eyes: [rxHoleA, rxHoleB, rxHoleC, rxHoleD],
    ribbons: [rxRibbonA, rxRibbonB, rxRibbonC, rxRibbonD, rxRibbonE, rxRibbonF, rxRibbonG, rxRibbonH, rxRibbonI, rxRibbonJ, rxRibbonK, rxRibbonL, rxRibbonM, rxRibbonN],
    slits: [rxSlitA, rxSlitB, rxSlitC, rxSlitD, rxSlitE, rxSlitF], lines: [] as Pt[][], greens: [rxGreenA, rxGreenB, rxGreenC, rxGreenD, rxGreenE, rxGreenF], dots: [] as Pt[][] },
  { title: 'FNN_RX.Density', left: 552.3, top: 332, bottom: 573.7, domain: [-1, 4], step: 0.2, labelX: 510, adsX: 501, digits: 0, majors: [-1, 0, 1, 2, 3, 4], coreOpacity: 0.75,
    masses: [frUpperMass, frLowerMass], cores: [frLaneCoreA, frLaneCoreB, frLaneCoreC, frLaneCoreD, frLaneCoreE], eyes: [frHoleA, frHoleB, frHoleC, frHoleD],
    ribbons: [frRibbonA, frRibbonB, frRibbonC, frRibbonD, frRibbonE, frRibbonF, frRibbonG, frRibbonH, frRibbonI, frRibbonJ, frRibbonK, frRibbonL, frRibbonM],
    slits: [frSlitA, frSlitB, frSlitC, frSlitD, frSlitE, frSlitF, frSlitG], lines: [] as Pt[][], greens: [frGreenA, frGreenB, frGreenC, frGreenD, frGreenE], dots: [] as Pt[][] },
  { title: 'OUT.Density', left: 67.5, top: 676.3, bottom: 918.3, domain: [-0.5, 2], step: 0.1, labelX: 15, adsX: 7, digits: 1, majors: [-0.5, 0, 0.5, 1, 1.5, 2], coreOpacity: 1,
    masses: [outMass], cores: [] as Pt[][], eyes: [outEyeA, outEyeB, outSlitA, outSlitB],
    ribbons: [] as Pt[][],
    slits: [outHatchA, outHatchB, outHatchC, outHatchD, outHatchE, outHatchF, outHatchG, outHatchH, outHatchI, outHatchJ, outHatchK, outHatchL, outHatchM, outHatchN, outHatchO, outHatchP], lines: [outCyanA, outCyanB, outCyanC, outCyanD, outCyanE, outCyanF, outCyanG], greens: [outGreenA, outGreenB], dots: [] as Pt[][] },
  { title: 'FNN_OUT.Density', left: 552.3, top: 676.3, bottom: 918.3, domain: [-0.5, 2], step: 0.1, labelX: 500, adsX: 492, digits: 1, majors: [-0.5, 0, 0.5, 1, 1.5, 2], coreOpacity: 1,
    masses: [foMass], cores: [] as Pt[][], eyes: [foEyeA, foEyeB, foSlitA, foSlitB, foSlitC],
    ribbons: [] as Pt[][],
    slits: [foHatchA, foHatchB, foHatchC, foHatchD, foHatchE, foHatchF, foHatchG, foHatchH, foHatchI, foHatchJ, foHatchK, foHatchL], lines: [foCyanA, foCyanB, foCyanC, foCyanD, foCyanE, foCyanF], greens: [foGreenA, foGreenB], dots: [] as Pt[][] },
]

const plotWidth = 383
const font = 'Liberation Sans, Arial, sans-serif'

// copies of a one-period trace for every repeat of the 100 ps pattern
const repeated = (items: Pt[][]) =>
  periods.flatMap(off => items.map(d => d.map(([t, v]) => [t + off, v] as Pt)))

export default function App() {
  const ref = useRef<SVGSVGElement>(null)

  useEffect(() => {
    const svg = d3.select(ref.current)
    svg.selectAll('*').remove()
    const defs = svg.append('defs')
    defs.append('filter').attr('id', 'soft')
      .attr('x', '-2%').attr('y', '-2%').attr('width', '104%').attr('height', '104%')
      .append('feGaussianBlur').attr('stdDeviation', 0.45)

    // speckle texture of the density plot
    const speckle = defs.append('pattern').attr('id', 'speckle').attr('patternUnits', 'userSpaceOnUse')
      .attr('width', 43).attr('height', 23)
    speckle.append('rect').attr('width', 43).attr('height', 23).attr('fill', '#0ca6ec')
    const dash = (x: number, y: number, w: number, c: string) =>
      speckle.append('rect').attr('x', x).attr('y', y).attr('width', w).attr('height', 1.5).attr('fill', c)
    dash(2, 1, 6, '#0000e6'); dash(14, 3, 7, '#2ee0f0'); dash(31, 2, 4, '#0000e6')
    dash(6, 6, 11, '#2ee0f0'); dash(23, 6, 5, '#c0fff0'); dash(36, 7, 6, '#2ee0f0')
    dash(0, 10, 4, '#0000e6'); dash(12, 10, 5, '#0a6cdc'); dash(26, 11, 9, '#2ee0f0')
    dash(4, 14, 8, '#2ee0f0'); dash(18, 15, 4, '#0000e6'); dash(37, 15, 3, '#0000e6')
    dash(1, 19, 5, '#c0fff0'); dash(12, 19, 10, '#2ee0f0'); dash(30, 20, 5, '#0a6cdc')
    dash(26, 17, 4, '#c0fff0')

    panels.forEach((p, i) => {
      const x = d3.scaleLinear().domain([0, 200]).range([0, plotWidth])
      const y = d3.scaleLinear().domain(p.domain).range([p.bottom - p.top, 0])
      const h = p.bottom - p.top
      const g = svg.append('g').attr('transform', `translate(${p.left},${p.top})`)

      // grid goes under the traces
      g.append('g').selectAll('line').data(timeTicks.slice(1, -1)).join('line')
        .attr('x1', d => x(d)).attr('x2', d => x(d)).attr('y1', 0).attr('y2', h)
        .attr('stroke', '#c4c4c4').attr('stroke-width', 1.2)
      g.append('g').selectAll('line').data(p.majors.slice(1, -1)).join('line')
        .attr('x1', 0).attr('x2', plotWidth).attr('y1', d => y(d)).attr('y2', d => y(d))
        .attr('stroke', '#c4c4c4').attr('stroke-width', 1.2)

      g.append('clipPath').attr('id', `clip${i}`).append('rect').attr('width', plotWidth).attr('height', h + 1)
      const marks = g.append('g').attr('clip-path', `url(#clip${i})`).append('g').attr('filter', 'url(#soft)')

      const open = d3.line<Pt>().x(d => x(d[0])).y(d => y(d[1])).curve(d3.curveCatmullRom.alpha(0.5))
      const closed = d3.line<Pt>().x(d => x(d[0])).y(d => y(d[1])).curve(d3.curveCardinalClosed.tension(0.6))

      const fills = (items: Pt[][], fill: string) =>
        marks.append('g').selectAll('path').data(repeated(items)).join('path')
          .attr('d', d => closed(d)).attr('fill', fill)
      const strokes = (items: Pt[][], color: string, width: number, dash?: string) =>
        marks.append('g').selectAll('path').data(repeated(items)).join('path')
          .attr('d', d => open(d)).attr('fill', 'none').attr('stroke', color)
          .attr('stroke-width', width).attr('stroke-dasharray', dash || null)

      fills(p.masses, '#0000e6')
      fills(p.cores, 'url(#speckle)').attr('opacity', p.coreOpacity)
      strokes(p.ribbons, '#0a8ae8', 3.5).attr('opacity', 0.7)
      fills(p.eyes, 'white')
      strokes(p.slits, 'white', p.ribbons.length ? 1.6 : 1.1)
      strokes(p.ribbons, '#22d4f0', 1.5, '14 3 6 2').attr('opacity', 0.85)
      strokes(p.ribbons, '#c8fff2', 0.8, '5 6 9 4')

      strokes(p.lines, '#1cc4ee', 1.5, '9 3 3 2')
      strokes(p.greens, '#58e860', 2.2, '10 2')
      strokes(p.greens, '#e6e848', 1, '5 6')
      strokes(p.dots, '#0000a0', 1.4, '1.2 4')

      // frame and ticks
      g.append('rect').attr('width', plotWidth).attr('height', h).attr('fill', 'none').attr('stroke', '#222').attr('stroke-width', 1)

      const minorTicks = d3.range(p.domain[0], p.domain[1] + p.step / 2, p.step)
      g.append('g').call(d3.axisLeft(y).tickValues(minorTicks).tickSize(4).tickFormat(() => ''))
        .call(a => a.select('.domain').remove())
      g.append('g').call(d3.axisLeft(y).tickValues(p.majors).tickSize(10).tickFormat(d3.format(`.${p.digits}f`)))
        .call(a => a.select('.domain').remove())
        .call(a => a.selectAll('text').attr('font-family', font).attr('font-size', 12.5).attr('fill', '#333').attr('x', -10.5))

      g.append('g').attr('transform', `translate(0,${h})`)
        .call(d3.axisBottom(x).tickValues(d3.range(0, 201, 10)).tickSize(5).tickFormat(() => ''))
        .call(a => a.select('.domain').remove())
      g.append('g').attr('transform', `translate(0,${h})`)
        .call(d3.axisBottom(x).tickValues(timeTicks).tickSize(5).tickFormat(d3.format('d')))
        .call(a => a.select('.domain').remove())
        .call(a => a.selectAll('text').attr('font-family', font).attr('font-size', 12.5).attr('fill', '#333').attr('y', 11))

      svg.append('text').attr('x', p.left + plotWidth / 2).attr('y', p.bottom + 47).attr('text-anchor', 'middle')
        .attr('font-family', font).attr('font-size', 14).attr('fill', '#e02c2c').text('time, psec')
      svg.append('text').attr('transform', `translate(${p.labelX + 5},${(p.top + p.bottom) / 2}) rotate(-90)`)
        .attr('text-anchor', 'middle').attr('font-family', font).attr('font-size', 14).attr('fill', '#e02c2c').text(p.title)
      svg.append('text').attr('x', p.adsX).attr('y', p.top + 15)
        .attr('font-family', font).attr('font-size', 13).attr('textLength', 21).attr('lengthAdjust', 'spacingAndGlyphs')
        .attr('fill', '#a8a8a8').text('ADS')
    })
  }, [])

  return <svg ref={ref} width={948} height={974} style={{ position: 'absolute', left: 0, top: 0, background: 'white' }} />
}
